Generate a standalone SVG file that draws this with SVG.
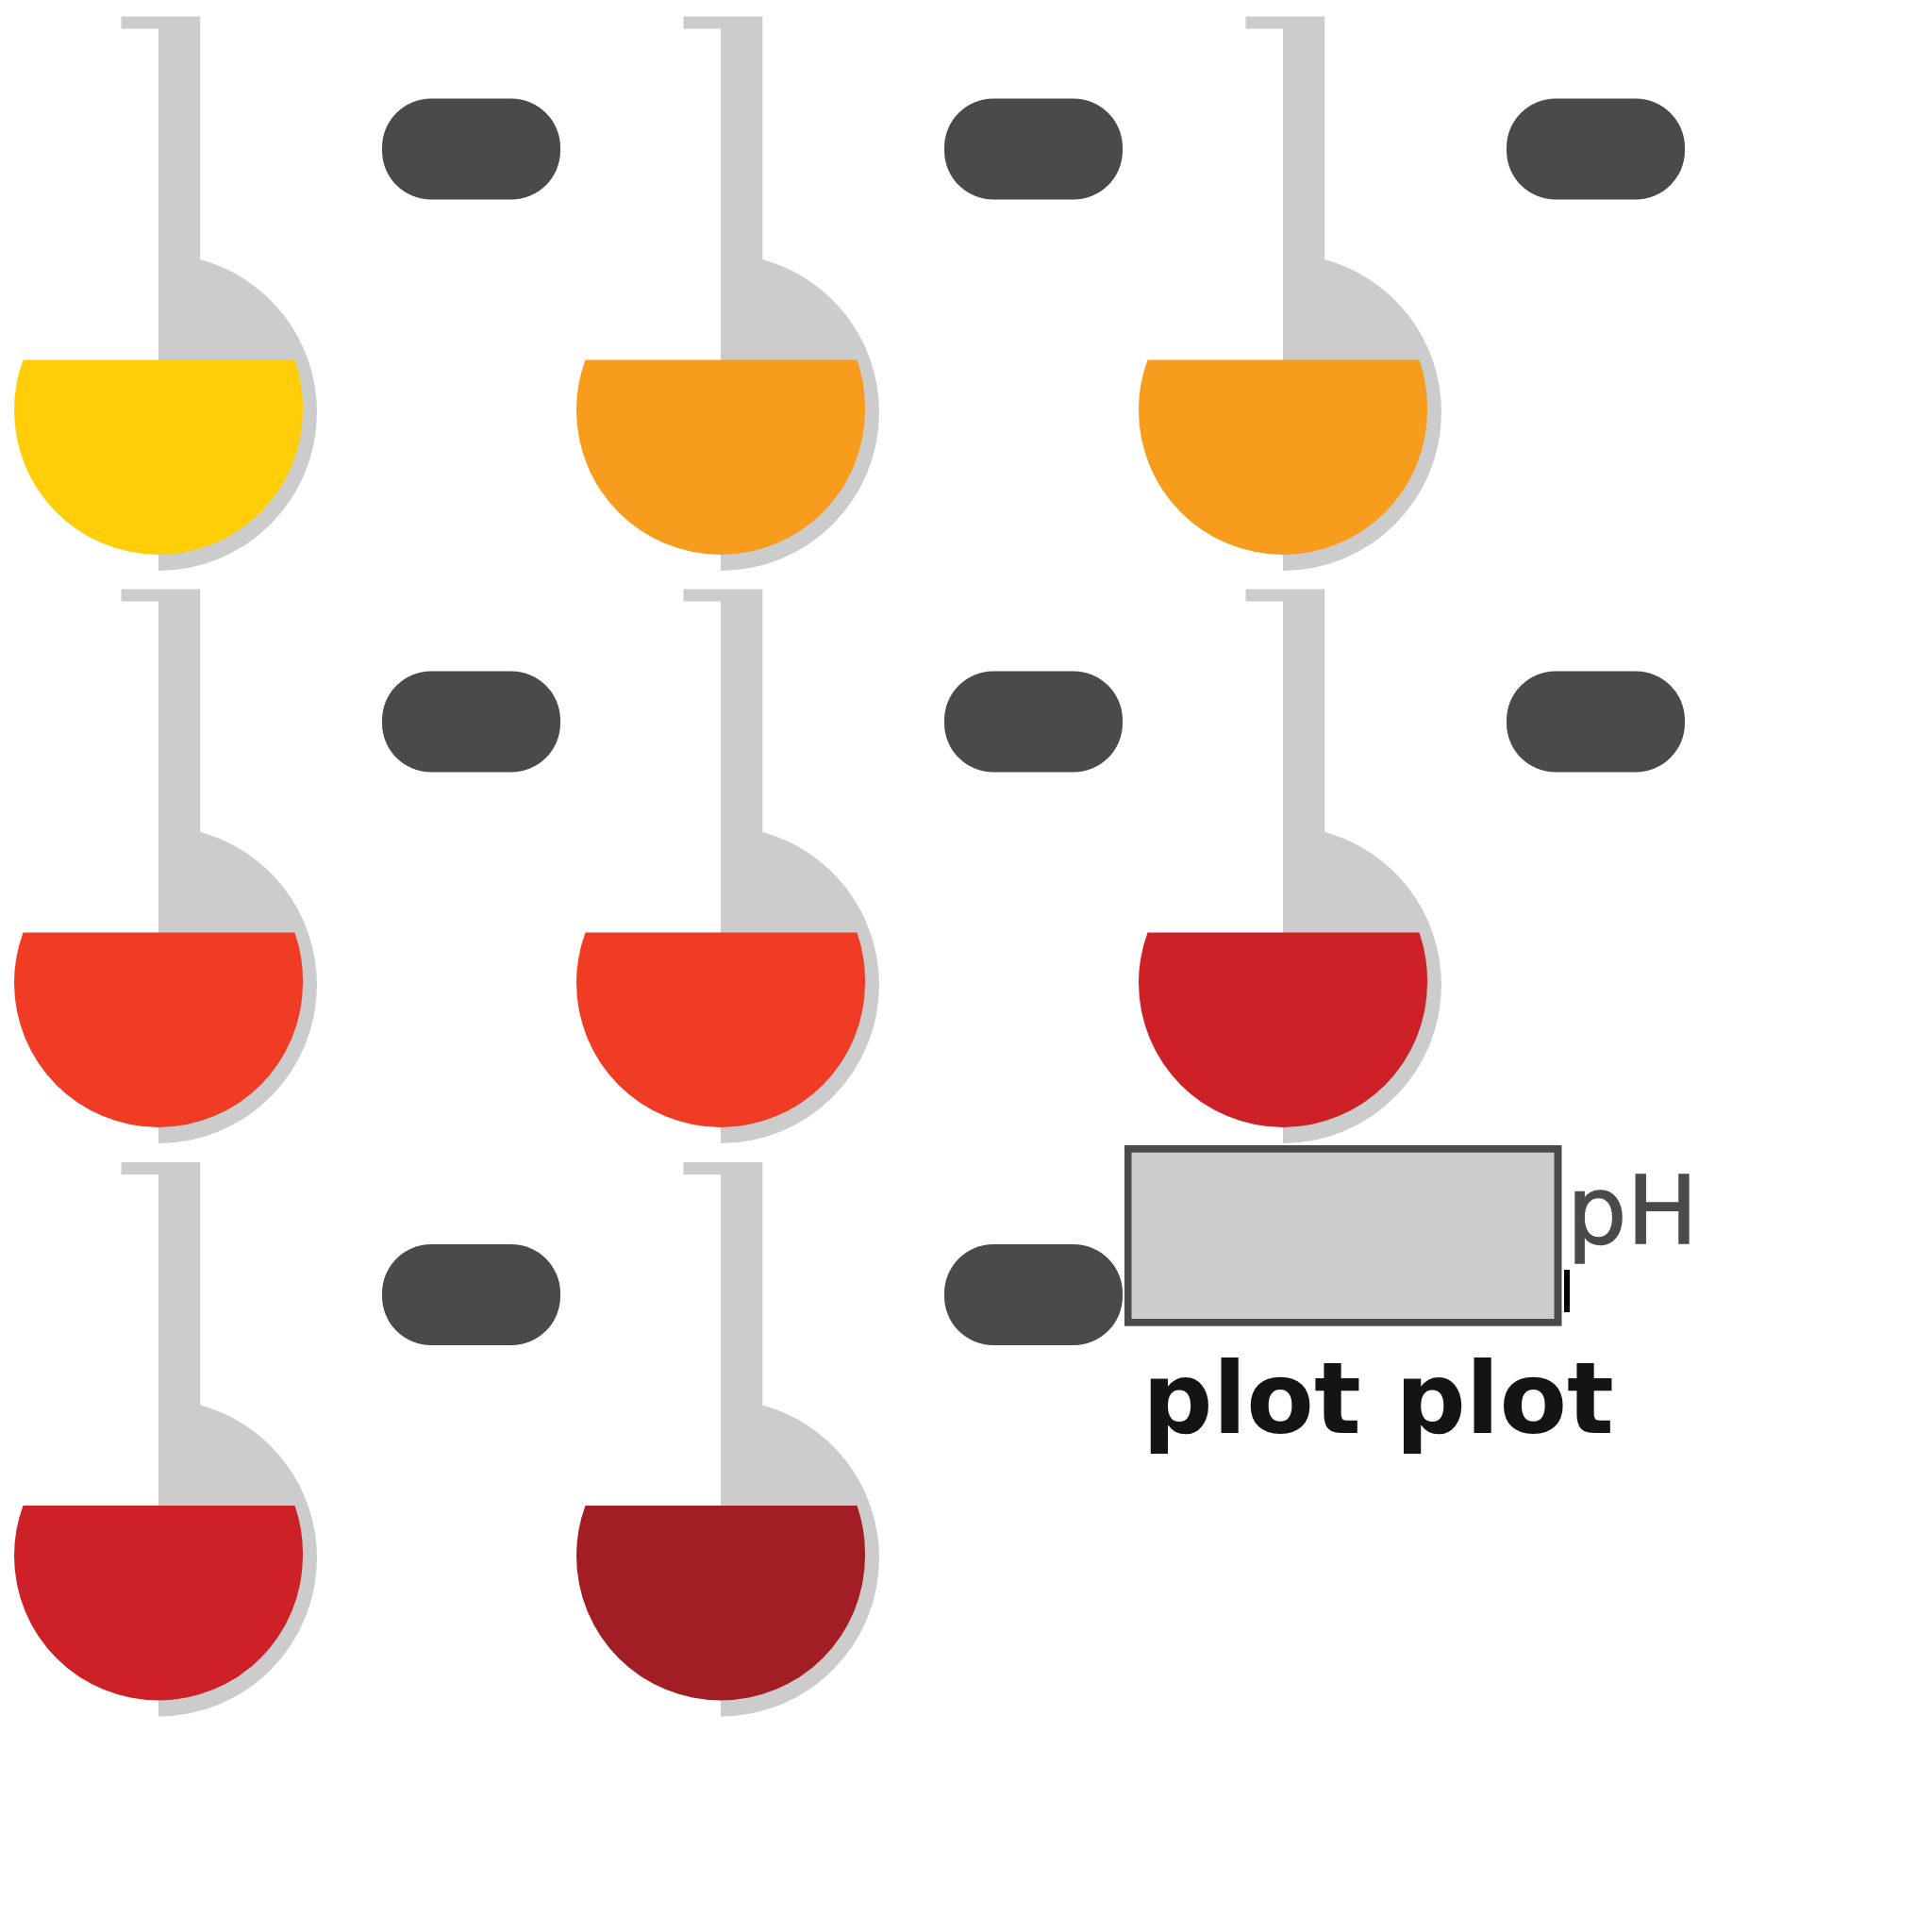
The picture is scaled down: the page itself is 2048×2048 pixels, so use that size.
<svg xmlns="http://www.w3.org/2000/svg" width="2048" height="2048" viewBox="0 0 2048 2048">
<style>
.glass{fill:#cccccc}
.pill{fill:#4a4a4a}
.y{fill:#ffce08}.o{fill:#f89c1e}.r{fill:#f03c24}.c{fill:#cd2027}.d{fill:#a31d25}
.ph{font-family:"DejaVu Sans",sans-serif;font-size:100px;fill:#4a4a4a;stroke:#4a4a4a;stroke-width:1.5px}
.pl{font-family:"DejaVu Sans",sans-serif;font-weight:700;font-size:105px;fill:#141414}
</style>
<defs>
<path id="g" class="glass" d="M128.5 17.5H212.3V275A168 168 0 0 1 336 437A168 168 0 0 1 168 605V30.5H128.5Z"/>
<path id="l" d="M24.5 381.6H312.5A153 153 0 0 1 321 435A153 153 0 0 1 168 588A153 153 0 0 1 15 435A153 153 0 0 1 24.5 381.6Z"/>
<rect id="p" class="pill" x="405" y="104.5" width="189" height="107" rx="52" ry="52"/>
</defs>
<g id="connectors"/>
<g id="flask-1-1"><use href="#g"/><use href="#l" class="y"/><use href="#p"/></g>
<g id="flask-1-2" transform="translate(596 0)"><use href="#g"/><use href="#l" class="o"/><use href="#p"/></g>
<g id="flask-1-3" transform="translate(1192 0)"><use href="#g"/><use href="#l" class="o"/><use href="#p"/></g>
<g id="flask-2-1" transform="translate(0 607)"><use href="#g"/><use href="#l" class="r"/><use href="#p"/></g>
<g id="flask-2-2" transform="translate(596 607)"><use href="#g"/><use href="#l" class="r"/><use href="#p"/></g>
<g id="flask-2-3" transform="translate(1192 607)"><use href="#g"/><use href="#l" class="c"/><use href="#p"/></g>
<g id="flask-3-1" transform="translate(0 1214.5)"><use href="#g"/><use href="#l" class="c"/><use href="#p"/></g>
<g id="flask-3-2" transform="translate(596 1214.5)"><use href="#g"/><use href="#l" class="d"/><use href="#p"/></g>
<g id="panel">
<rect x="1192" y="1214" width="463.5" height="191.7" fill="#4a4a4a"/>
<rect x="1199.5" y="1221.7" width="448" height="176.3" fill="#cccccc"/>
<rect x="1658" y="1346" width="6" height="45" fill="#000"/>
<text class="ph" x="1661" y="1318">pH</text>
<text class="pl" transform="translate(1211 1519) scale(.993 1)">plot plot</text>
</g>
</svg>
